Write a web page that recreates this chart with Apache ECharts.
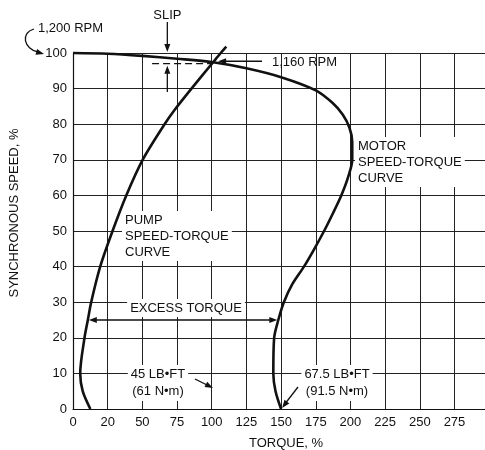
<!DOCTYPE html>
<html>
<head>
<meta charset="utf-8">
<script src="https://cdn.jsdelivr.net/npm/echarts@6/dist/echarts.min.js"></script>
<style>
  html, body { margin: 0; padding: 0; background: #fff; }
  #chart { width: 485px; height: 450px; }
</style>
</head>
<body>
<div id="chart"></div>
<script>
// tick labels as printed on the original figure (second one reads "20")
var xTickLabels = ['0', '20', '50', '75', '100', '125', '150', '175', '200', '225', '250', '275'];

// motor speed-torque curve (speed %, torque %)
var motorSpeed = [0, 5, 10, 20, 25, 30, 35, 40, 45, 50, 55, 60, 65, 70, 75, 79, 82.7, 86, 89.5, 93.2, 95.7, 97.4, 98.4, 99.2, 99.8, 100];
var motorTorque = [150, 146, 144.4, 145, 148, 152, 158, 166.5, 174, 181, 187.4, 193.4, 198.2, 201.3, 201.3, 199.3, 194.4, 187, 175, 150, 125, 101, 75, 50, 25, 0];

// pump speed-torque curve
var pumpSpeed = [0, 5, 10, 20, 25, 30, 40, 50, 60, 70, 80, 84, 90, 97.4, 100, 101.8];
var pumpTorque = [12.5, 7, 5.2, 8.3, 10.7, 13.1, 19.6, 28.5, 38.4, 50.2, 66, 73.2, 85.4, 101, 106.5, 110.5];

var excessSpeed = 25;   // where the "excess torque" arrow is drawn
var slipSpeed = 97;     // dashed slip line

var FONT = 'Liberation Sans';
var INK = '#111';

function pairs(xs, ys) {
  return xs.map(function (x, i) { return [x, ys[i]]; });
}

var chart = echarts.init(document.getElementById('chart'));

chart.setOption({
  animation: false,
  backgroundColor: '#fff',
  grid: { left: 73, right: 0, top: 53, bottom: 41 },
  xAxis: {
    type: 'value',
    min: 0,
    max: 297,
    interval: 25,
    axisLine: { show: true, lineStyle: { color: INK, width: 1.2 } },
    axisTick: { show: false },
    splitLine: { show: true, lineStyle: { color: '#222', width: 1 } },
    axisLabel: {
      color: INK, fontFamily: FONT, fontSize: 13, margin: 7,
      showMaxLabel: false,
      formatter: function (v) {
        var i = v / 25;
        return (i === Math.round(i) && xTickLabels[i] !== undefined) ? xTickLabels[i] : '';
      }
    }
  },
  yAxis: {
    type: 'value',
    min: 0,
    max: 100,
    interval: 10,
    axisLine: { show: true, lineStyle: { color: INK, width: 1.2 } },
    axisTick: { show: false },
    splitLine: { show: true, lineStyle: { color: '#222', width: 1 } },
    axisLabel: { color: INK, fontFamily: FONT, fontSize: 13, margin: 6 }
  },
  series: [
    {
      name: 'Motor',
      type: 'line',
      data: pairs(motorTorque, motorSpeed),
      smooth: 0.3,
      symbol: 'none',
      clip: false,
      lineStyle: { color: INK, width: 2.6 },
      z: 5
    },
    {
      name: 'Pump',
      type: 'line',
      data: pairs(pumpTorque, pumpSpeed),
      smooth: 0.3,
      symbol: 'none',
      clip: false,
      lineStyle: { color: INK, width: 2.6 },
      z: 5
    }
  ]
});

// ---- annotations ----
function px(x, y) {
  return chart.convertToPixel({ gridIndex: 0 }, [x, y]);
}

function head(tail, tip) {
  var dx = tip[0] - tail[0], dy = tip[1] - tail[1];
  var l = Math.sqrt(dx * dx + dy * dy);
  var ux = dx / l, uy = dy / l, len = 8, hw = 3;
  var bx = tip[0] - ux * len, by = tip[1] - uy * len;
  return {
    type: 'polygon', z: 100,
    shape: { points: [tip, [bx - uy * hw, by + ux * hw], [bx + uy * hw, by - ux * hw]] },
    style: { fill: INK }
  };
}

function seg(a, b, dash) {
  return {
    type: 'line', z: 100,
    shape: { x1: a[0], y1: a[1], x2: b[0], y2: b[1] },
    style: { stroke: INK, lineWidth: 1.3, lineDash: dash || null }
  };
}

function text(str, x, y, align, opts) {
  opts = opts || {};
  return {
    type: 'text', z: 101, x: x, y: y, rotation: opts.rotation || 0,
    style: {
      text: str, fill: INK, fontFamily: FONT, fontSize: 13,
      align: align, verticalAlign: opts.va || 'middle',
      lineHeight: opts.lineHeight || 16,
      backgroundColor: opts.bg ? '#fff' : null,
      padding: opts.bg ? [1, 3, 1, 3] : 0
    }
  };
}

var g = [];
var topY = px(0, 100)[1];

// axis titles
g.push(text('SYNCHRONOUS SPEED, %', 14, 213, 'center', { rotation: Math.PI / 2 }));
g.push(text('TORQUE, %', 286, 443, 'center'));

// 1,200 RPM with curved arrow to the 100 label
g.push(text('1,200 RPM', 38, 28, 'left'));
g.push({
  type: 'bezierCurve', z: 100,
  shape: { x1: 34, y1: 29, cpx1: 20, cpy1: 33, cpx2: 24, cpy2: 49, x2: 38, y2: 52 },
  style: { stroke: INK, lineWidth: 1.3, fill: null }
});
g.push(head([30, 50], [44, 54]));

// slip
var inter = px(motorTorque[motorSpeed.indexOf(97.4)], 97.4);
var slipY = px(0, slipSpeed)[1];
var slipX = px(68, 0)[0];
g.push(text('SLIP', slipX, 15, 'center'));
g.push(seg([slipX, 22], [slipX, topY - 4]));
g.push(head([slipX, 22], [slipX, topY - 1]));
g.push(seg(px(57, slipSpeed), [inter[0] - 2, slipY], [7, 4]));
g.push(seg([slipX, 92], [slipX, slipY + 5]));
g.push(head([slipX, 92], [slipX, slipY + 2]));

// 1,160 RPM
g.push(text('1,160 RPM', 272, 62, 'left'));
g.push(seg([262, inter[1] - 1], [inter[0] + 10, inter[1] - 1]));
g.push(head([262, inter[1] - 1], [inter[0] + 5, inter[1] - 1]));

// curve names
g.push(text('MOTOR\nSPEED-TORQUE\nCURVE', 355, 137, 'left', { va: 'top', bg: true }));
g.push(text('PUMP\nSPEED-TORQUE\nCURVE', 122, 211, 'left', { va: 'top', bg: true }));

// excess torque
var pL = px(pumpTorque[pumpSpeed.indexOf(excessSpeed)], excessSpeed);
var mR = px(motorTorque[motorSpeed.indexOf(excessSpeed)], excessSpeed);
g.push(text('EXCESS TORQUE', 186, 308, 'center', { bg: true }));
g.push(seg([pL[0] + 4, pL[1]], [mR[0] - 4, mR[1]]));
g.push(head([pL[0] + 20, pL[1]], [pL[0] + 1, pL[1]]));
g.push(head([mR[0] - 20, mR[1]], [mR[0] - 1, mR[1]]));

// starting torques
g.push(text('45 LB\u2022FT\n(61 N\u2022m)', 158, 383, 'center', { bg: true, lineHeight: 17 }));
g.push(seg([195, 379], [209, 386]));
g.push(head([195, 379], [213, 388]));

var m0 = px(motorTorque[0], motorSpeed[0]);
g.push(text('67.5 LB\u2022FT\n(91.5 N\u2022m)', 337, 383, 'center', { bg: true, lineHeight: 17 }));
g.push(seg([298, 387], [m0[0] + 3, m0[1] - 4]));
g.push(head([298, 387], [m0[0] + 1, m0[1] - 1]));

chart.setOption({ graphic: g });
</script>
</body>
</html>
